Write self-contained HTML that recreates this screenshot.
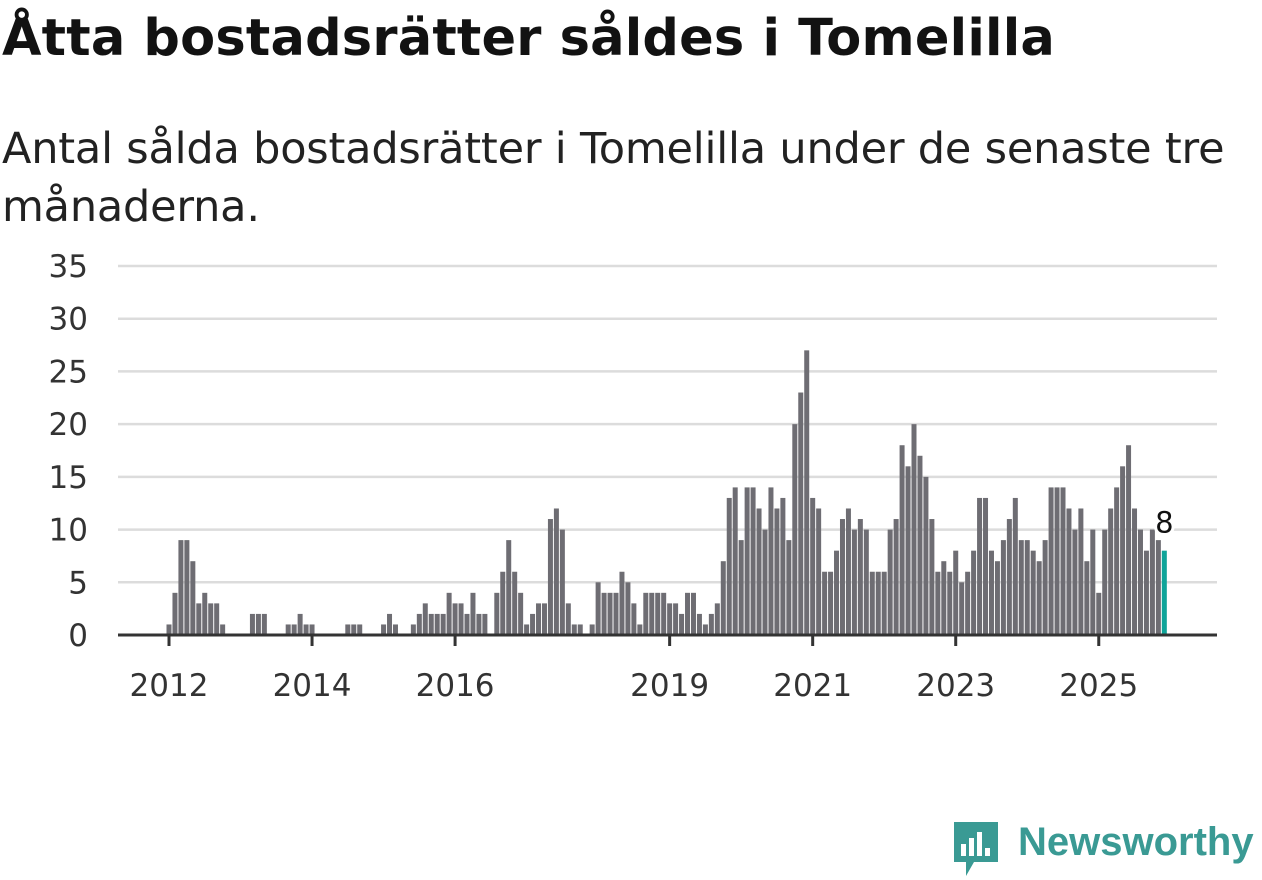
<!DOCTYPE html>
<html><head><meta charset="utf-8"><style>
body{margin:0;background:#fff;width:1262px;height:879px;overflow:hidden;font-family:"DejaVu Sans","Liberation Sans",sans-serif;}
h1{position:absolute;left:2px;top:4px;margin:0;font-size:51px;line-height:70px;font-weight:bold;color:#121212;white-space:nowrap;letter-spacing:0.2px}
.sub{position:absolute;left:2px;top:120px;margin:0;font-size:43px;line-height:58px;color:#222;white-space:nowrap;letter-spacing:-0.2px}
svg{position:absolute;left:0;top:0}
</style></head><body>
<h1>Åtta bostadsrätter såldes i Tomelilla</h1>
<p class="sub">Antal sålda bostadsrätter i Tomelilla under de senaste tre<br>månaderna.</p>
<svg id="chart" width="1262" height="879"></svg>
<div style="position:absolute;left:950px;top:818px;width:310px;height:62px">
<svg width="52" height="62" style="position:absolute;left:0;top:0"><path d="M4 4h44v40H24l-8 14v-14H4z" fill="#3a9a94"/><rect x="11" y="26" width="5" height="12" fill="#fff"/><rect x="19" y="20" width="5" height="18" fill="#fff"/><rect x="27" y="14" width="5" height="24" fill="#fff"/><rect x="35" y="30" width="5" height="8" fill="#fff"/></svg>
<span style="position:absolute;left:68px;top:2px;font-family:'Liberation Sans',sans-serif;font-size:40px;font-weight:bold;color:#3a9a94">Newsworthy</span>
</div>
<script>
const categories=[];for(let y=2012;y<=2025;y++)for(let m=1;m<=12;m++)categories.push(y+'-'+String(m).padStart(2,'0'));
const values=[1,4,9,9,7,3,4,3,3,1,0,0,
0,0,2,2,2,0,0,0,1,1,2,1,
1,0,0,0,0,0,1,1,1,0,0,0,
1,2,1,0,0,1,2,3,2,2,2,4,
3,3,2,4,2,2,0,4,6,9,6,4,
1,2,3,3,11,12,10,3,1,1,0,1,
5,4,4,4,6,5,3,1,4,4,4,4,
3,3,2,4,4,2,1,2,3,7,13,14,
9,14,14,12,10,14,12,13,9,20,23,27,
13,12,6,6,8,11,12,10,11,10,6,6,
6,10,11,18,16,20,17,15,11,6,7,6,
8,5,6,8,13,13,8,7,9,11,13,9,
9,8,7,9,14,14,14,12,10,12,7,10,
4,10,12,14,16,18,12,10,8,10,9,8];
const yTicks=[0,5,10,15,20,25,30,35];
const xTickLabels=['2012','2014','2016','2019','2021','2023','2025'];
const NS='http://www.w3.org/2000/svg';
const svg=document.getElementById('chart');
const x0=118,x1=1217;
function xScale(i){return 169+i*5.96;}
function yScale(v){return 635-v*(369/35);}
function idxOf(yr){return categories.indexOf(yr+'-01');}
function mk(t,a){const e=document.createElementNS(NS,t);for(const k in a)e.setAttribute(k,a[k]);svg.appendChild(e);return e;}
yTicks.forEach(v=>{
 if(v>0){const l=mk('line',{x1:x0,x2:x1,y1:yScale(v),y2:yScale(v),stroke:'#dcdcdc','stroke-width':2.5});
 
 }
 const t=mk('text',{x:88,y:yScale(v)+11,'text-anchor':'end','font-size':31,fill:'#333'});
 
 
 t.textContent=v;
});
values.forEach((v,i)=>{
 if(v<=0)return;
 const last=i===values.length-1;
 const r=mk('rect',{x:xScale(i)-2.5,y:yScale(v),width:5,height:yScale(0)-yScale(v),fill:last?'#0fa499':'#6e6d73'});
 
 
});
const ax=mk('line',{x1:x0,x2:x1,y1:635,y2:635,stroke:'#333','stroke-width':3});


xTickLabels.forEach(yr=>{
 const xi=xScale(idxOf(yr));
 const tk=mk('line',{x1:xi,x2:xi,y1:635,y2:646,stroke:'#333','stroke-width':3});
 
 
 const t=mk('text',{x:xi,y:696,'text-anchor':'middle','font-size':31,fill:'#333'});
 
 
 t.textContent=yr;
});
const li=values.length-1;
const lb=mk('text',{x:xScale(li),y:yScale(values[li])-18,'text-anchor':'middle','font-size':29,fill:'#111',stroke:'#fff','stroke-width':6,'paint-order':'stroke'});


lb.textContent=values[li];
</script>
</body></html>
